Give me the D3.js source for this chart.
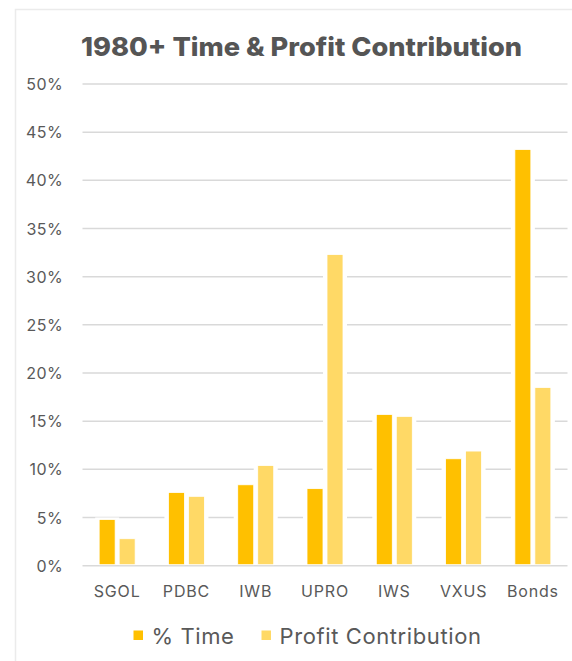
<!DOCTYPE html>
<html>
<head>
<meta charset="utf-8">
<script src="https://cdn.jsdelivr.net/npm/d3@7"></script>
<style>
  body { margin: 0; background: #fff; }
  svg text { font-family: Inter, "Open Sans", sans-serif; fill: #595959; }
</style>
</head>
<body>
<svg id="chart"></svg>
<script>
const tickers = ["SGOL", "PDBC", "IWB", "UPRO", "IWS", "VXUS", "Bonds"]
const timePct = [4.8, 7.6, 8.4, 8.0, 15.7, 11.1, 43.2]
const profitPct = [2.8, 7.2, 10.4, 32.3, 15.5, 11.9, 18.5]
const seriesNames = ["% Time", "Profit Contribution"]
const colors = ["#FFC000", "#FFD966"]
const yTicks = [0, 5, 10, 15, 20, 25, 30, 35, 40, 45, 50]

const W = 572, H = 661
const plotL = 82.5, plotR = 567.5, plotT = 84, plotB = 565.7

const svg = d3.select("#chart").attr("width", W).attr("height", H)

// outer frame
svg.append("rect")
  .attr("x", 15.5).attr("y", 9.5)
  .attr("width", 700).attr("height", 800)
  .attr("fill", "none").attr("stroke", "#ebebeb").attr("stroke-width", 1.5)

// title
svg.append("text")
  .attr("x", 81).attr("y", 56)
  .attr("textLength", 441)
  .attr("lengthAdjust", "spacingAndGlyphs")
  .style("font-size", "26px").style("font-weight", 800)
  .style("fill", "#555")
  .text("1980+ Time & Profit Contribution")

const x = d3.scaleBand().domain(tickers).range([plotL, plotR])
const y = d3.scaleLinear().domain([0, 50]).range([plotB, plotT])

// gridlines
svg.append("g")
  .selectAll("line")
  .data(yTicks)
  .enter()
  .append("line")
  .attr("x1", plotL).attr("x2", plotR)
  .attr("y1", d => y(d)).attr("y2", d => y(d))
  .attr("stroke", "#d9d9d9").attr("stroke-width", 1.5)

// y labels
svg.append("g")
  .selectAll("text")
  .data(yTicks)
  .enter()
  .append("text")
  .attr("x", 63).attr("y", d => y(d) + 6)
  .attr("text-anchor", "end")
  .style("font-size", "16px")
  .style("letter-spacing", "0.4px")
  .text(d => d + "%")

// bars
const barW = 16, gap = 4
const rows = []
tickers.forEach(function (t, i) {
  rows.push({ t: t, s: 0, v: timePct[i] })
  rows.push({ t: t, s: 1, v: profitPct[i] })
})
function barX(d) {
  const c = x(d.t) + x.bandwidth() / 2
  return d.s === 0 ? c - gap / 2 - barW : c + gap / 2
}

// white halo around bars cuts the gridlines
svg.append("g")
  .selectAll("rect")
  .data(rows)
  .enter()
  .append("rect")
  .attr("x", d => barX(d) - 4)
  .attr("y", d => y(d.v) - 2)
  .attr("width", barW + 8)
  .attr("height", d => plotB - y(d.v) + 1)
  .attr("fill", "#fff")

svg.append("g")
  .selectAll("rect")
  .data(rows)
  .enter()
  .append("rect")
  .attr("x", d => barX(d))
  .attr("y", d => y(d.v))
  .attr("width", barW)
  .attr("height", d => plotB - y(d.v) - 1)
  .attr("fill", d => colors[d.s])
  .attr("stroke", "#fff").attr("stroke-width", 0.8)

// x labels
svg.append("g")
  .selectAll("text")
  .data(tickers)
  .enter()
  .append("text")
  .attr("x", d => x(d) + x.bandwidth() / 2)
  .attr("y", 597)
  .attr("text-anchor", "middle")
  .style("font-size", "16px")
  .style("letter-spacing", "0.8px")
  .text(d => d)

// legend
const legX = [133.5, 261.5]
const leg = svg.append("g")
seriesNames.forEach(function (n, i) {
  leg.append("rect")
    .attr("x", legX[i]).attr("y", 630.5)
    .attr("width", 9.5).attr("height", 9.5)
    .attr("fill", colors[i])
  leg.append("text")
    .attr("x", legX[i] + 18).attr("y", 644)
    .style("font-size", "22px")
    .style("letter-spacing", "0.6px")
    .text(n)
})
</script>
</body>
</html>
